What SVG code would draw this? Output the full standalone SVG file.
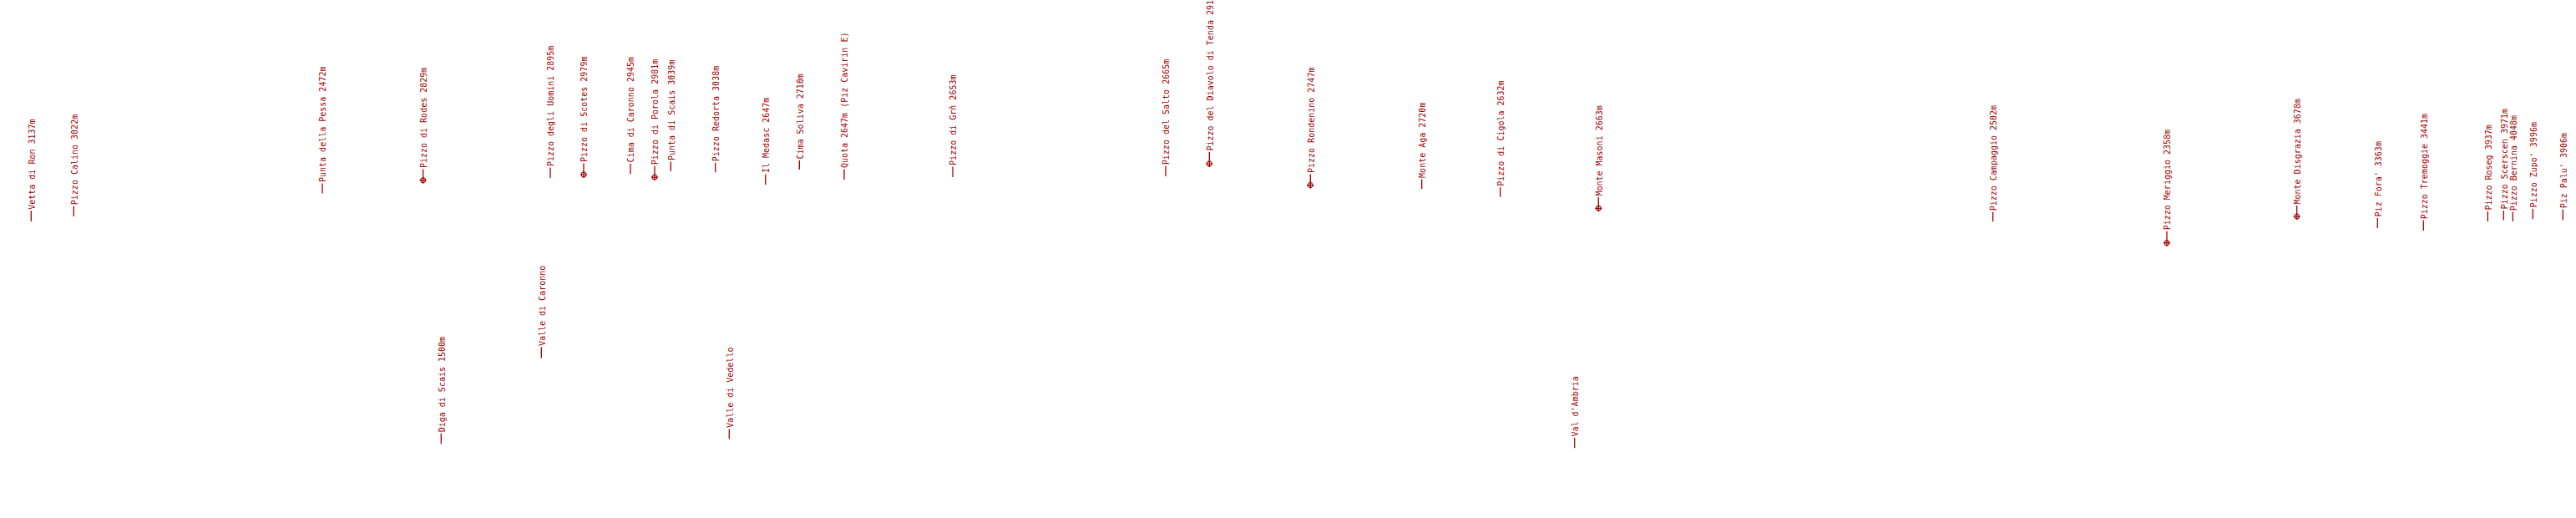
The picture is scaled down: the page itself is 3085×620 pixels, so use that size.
<svg xmlns="http://www.w3.org/2000/svg" width="3085" height="620" viewBox="0 0 3085 620">
<style>
.lbl{font-family:"DejaVu Sans Mono","Liberation Mono",monospace;font-size:10px;fill:#a00000}
.ld{stroke:#a00000;stroke-width:1.3;fill:none}
.mk{stroke:#a00000;stroke-width:1.2;fill:none}
</style>
<defs>
<g id="target"><circle class="mk" cx="0" cy="0" r="2.9"/><path class="mk" d="M-4 0H4M0 -4V4"/></g>
</defs>
<rect width="3085" height="620" fill="#fff"/>
<g id="connectors">
<path class="ld" d="M37.3 265V252.3"/>
<path class="ld" d="M88.3 259.1V246.7"/>
<path class="ld" d="M386 231.5V219.5"/>
<path class="ld" d="M506.7 212.2V202.6"/>
<path class="ld" d="M528.3 531.2V518.8"/>
<path class="ld" d="M648.3 428.6V415.6"/>
<path class="ld" d="M659 212.9V200.6"/>
<path class="ld" d="M699 205.5V195.5"/>
<path class="ld" d="M755 208.2V195.9"/>
<path class="ld" d="M784 208.6V198.7"/>
<path class="ld" d="M803.3 205V193.5"/>
<path class="ld" d="M856.7 206.2V194.7"/>
<path class="ld" d="M873.3 525.6V513.4"/>
<path class="ld" d="M916.7 220.9V208.5"/>
<path class="ld" d="M957.3 203.1V192"/>
<path class="ld" d="M1011 215V202.6"/>
<path class="ld" d="M1141 212.1V199.4"/>
<path class="ld" d="M1396 210.9V198.7"/>
<path class="ld" d="M1448.3 192.5V182.1"/>
<path class="ld" d="M1569.3 218.1V208.5"/>
<path class="ld" d="M1702.7 226V214.4"/>
<path class="ld" d="M1796.7 235.8V224.3"/>
<path class="ld" d="M1885.7 536.3V524"/>
<path class="ld" d="M1914.3 245.8V236.1"/>
<path class="ld" d="M2386.7 265.3V253.8"/>
<path class="ld" d="M2595 287.2V276.8"/>
<path class="ld" d="M2750.7 255.6V246"/>
<path class="ld" d="M2847.3 272.9V260.9"/>
<path class="ld" d="M2902.3 276V263.8"/>
<path class="ld" d="M2979.3 265V253.1"/>
<path class="ld" d="M2998.3 263.5V251.9"/>
<path class="ld" d="M3009.3 265V253.8"/>
<path class="ld" d="M3033.3 262.3V249.9"/>
<path class="ld" d="M3069.3 263.5V250.8"/>
</g>
<g id="n01"><text class="lbl" transform="translate(41.6 250.8) rotate(-90)">Vetta di Ron 3137m</text></g>
<g id="n02"><text class="lbl" transform="translate(92.6 245.2) rotate(-90)">Pizzo Calino 3022m</text></g>
<g id="n03"><text class="lbl" transform="translate(390.3 218) rotate(-90)">Punta della Pessa 2472m</text></g>
<g id="n04"><use href="#target" x="506.7" y="215.7"/><text class="lbl" transform="translate(511 201.1) rotate(-90)">Pizzo di Rodes 2829m</text></g>
<g id="n05"><text class="lbl" transform="translate(532.6 517.3) rotate(-90)">Diga di Scais 1500m</text></g>
<g id="n06"><text class="lbl" transform="translate(652.6 414.1) rotate(-90)">Valle di Caronno</text></g>
<g id="n07"><text class="lbl" transform="translate(663.3 199.1) rotate(-90)">Pizzo degli Uomini 2895m</text></g>
<g id="n08"><use href="#target" x="699" y="209"/><text class="lbl" transform="translate(703.3 194) rotate(-90)">Pizzo di Scotes 2979m</text></g>
<g id="n09"><text class="lbl" transform="translate(759.3 194.4) rotate(-90)">Cima di Caronno 2945m</text></g>
<g id="n10"><use href="#target" x="784" y="212.1"/><text class="lbl" transform="translate(788.3 197.2) rotate(-90)">Pizzo di Porola 2981m</text></g>
<g id="n11"><text class="lbl" transform="translate(807.6 192) rotate(-90)">Punta di Scais 3039m</text></g>
<g id="n12"><text class="lbl" transform="translate(861 193.2) rotate(-90)">Pizzo Redorta 3038m</text></g>
<g id="n13"><text class="lbl" transform="translate(877.6 511.9) rotate(-90)">Valle di Vedello</text></g>
<g id="n14"><text class="lbl" transform="translate(921 207) rotate(-90)">Il Medasc 2647m</text></g>
<g id="n15"><text class="lbl" transform="translate(961.6 190.5) rotate(-90)">Cima Soliva 2710m</text></g>
<g id="n16"><text class="lbl" transform="translate(1015.3 201.1) rotate(-90)">Quota 2647m (Piz Cavirin E)</text></g>
<g id="n17"><text class="lbl" transform="translate(1145.3 197.9) rotate(-90)">Pizzo di Grň 2653m</text></g>
<g id="n18"><text class="lbl" transform="translate(1400.3 197.2) rotate(-90)">Pizzo del Salto 2665m</text></g>
<g id="n19"><use href="#target" x="1448.3" y="196"/><text class="lbl" transform="translate(1452.6 180.6) rotate(-90)">Pizzo del Diavolo di Tenda 2916m</text></g>
<g id="n20"><use href="#target" x="1569.3" y="221.6"/><text class="lbl" transform="translate(1573.6 207) rotate(-90)">Pizzo Rondenino 2747m</text></g>
<g id="n21"><text class="lbl" transform="translate(1707 212.9) rotate(-90)">Monte Aga 2720m</text></g>
<g id="n22"><text class="lbl" transform="translate(1801 222.8) rotate(-90)">Pizzo di Cigola 2632m</text></g>
<g id="n23"><use href="#target" x="1914.3" y="249.3"/><text class="lbl" transform="translate(1918.6 234.6) rotate(-90)">Monte Masoni 2663m</text></g>
<g id="n24"><text class="lbl" transform="translate(1890 522.5) rotate(-90)">Val d'Ambria</text></g>
<g id="n25"><text class="lbl" transform="translate(2391 252.3) rotate(-90)">Pizzo Campaggio 2502m</text></g>
<g id="n26"><use href="#target" x="2595" y="290.7"/><text class="lbl" transform="translate(2599.3 275.3) rotate(-90)">Pizzo Meriggio 2358m</text></g>
<g id="n27"><use href="#target" x="2750.7" y="259.1"/><text class="lbl" transform="translate(2755 244.5) rotate(-90)">Monte Disgrazia 3678m</text></g>
<g id="n28"><text class="lbl" transform="translate(2851.6 259.4) rotate(-90)">Piz Fora' 3363m</text></g>
<g id="n29"><text class="lbl" transform="translate(2906.6 262.3) rotate(-90)">Pizzo Tremoggie 3441m</text></g>
<g id="n30"><text class="lbl" transform="translate(2983.6 251.6) rotate(-90)">Pizzo Roseg 3937m</text></g>
<g id="n31"><text class="lbl" transform="translate(3002.6 250.4) rotate(-90)">Pizzo Scerscen 3971m</text></g>
<g id="n32"><text class="lbl" transform="translate(3013.6 252.3) rotate(-90)">Pizzo Bernina 4048m</text></g>
<g id="n33"><text class="lbl" transform="translate(3037.6 248.4) rotate(-90)">Pizzo Zupo' 3996m</text></g>
<g id="n34"><text class="lbl" transform="translate(3073.6 249.3) rotate(-90)">Piz Palu' 3906m</text></g>
</svg>
